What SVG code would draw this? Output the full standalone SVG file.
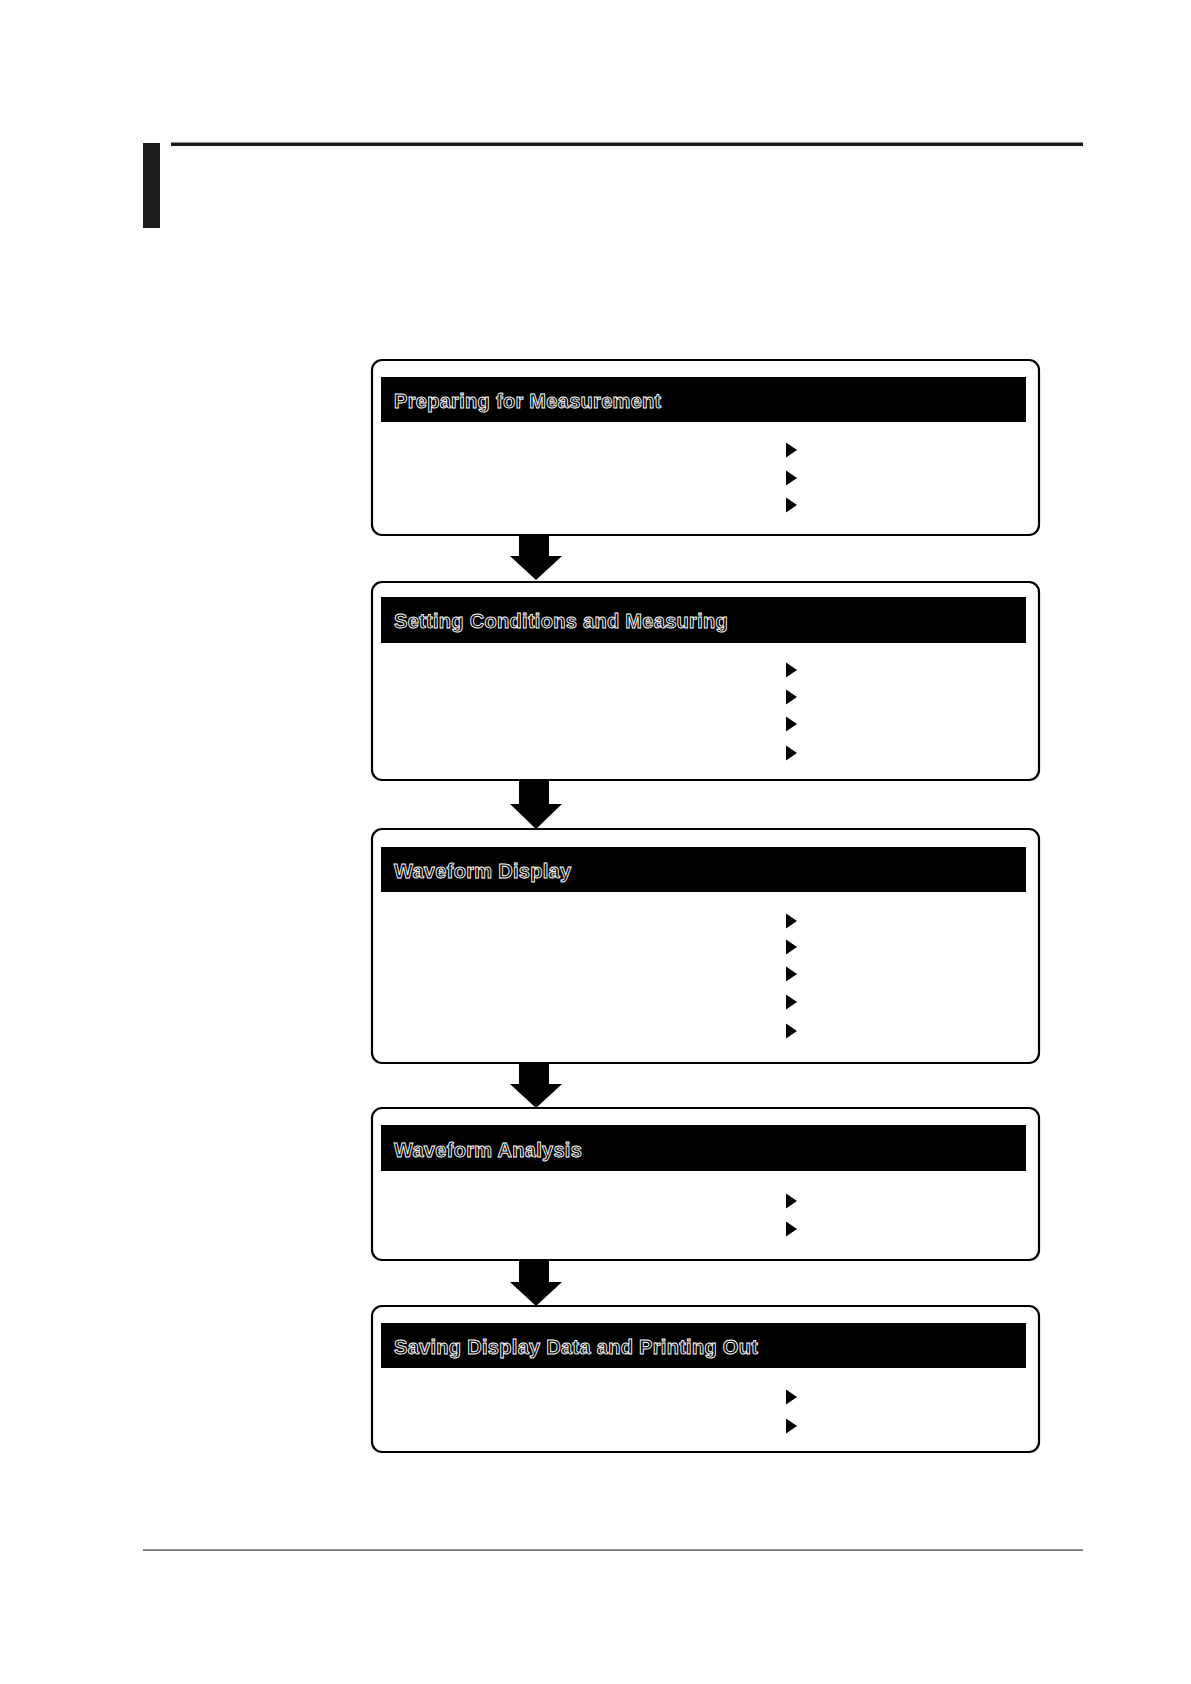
<svg xmlns="http://www.w3.org/2000/svg" width="1191" height="1684" viewBox="0 0 1191 1684">
<style>
.box{fill:#fff;stroke:#000;stroke-width:2.2}
.hdr{fill:#000}
.ht{font-family:"Liberation Sans",Arial,sans-serif;font-weight:bold;font-size:20px;fill:#000;stroke:#fff;stroke-width:0.9;letter-spacing:0.3px}
.tri{fill:#000}
.arr{fill:#000}
</style>
<defs><path id="t" d="M0,-7.5 L11,0 L0,7.5 Z"/></defs>
<rect x="143" y="143" width="17" height="85" fill="#1a1a1a"/>
<rect x="171" y="142.5" width="912" height="3.5" fill="#1a1a1a"/>
<rect x="143" y="1549.5" width="940" height="1.2" fill="#333"/>
<g id="connectors">
<path class="arr" d="M519,535 H549 V556 H562 L536,580 L510,556 H519 Z"/>
<path class="arr" d="M519,780 H549 V804 H562 L536,829 L510,804 H519 Z"/>
<path class="arr" d="M519,1063 H549 V1084 H562 L536,1108 L510,1084 H519 Z"/>
<path class="arr" d="M519,1260 H549 V1282 H562 L536,1306 L510,1282 H519 Z"/>
</g>
<g id="n1">
<rect class="box" x="372" y="360" width="667" height="175" rx="10"/>
<rect class="hdr" x="381" y="377" width="645" height="45"/>
<text class="ht" x="394" y="408">Preparing for Measurement</text>
<use href="#t" x="786" y="450"/><use href="#t" x="786" y="478"/><use href="#t" x="786" y="505"/>
</g>
<g id="n2">
<rect class="box" x="372" y="582" width="667" height="198" rx="10"/>
<rect class="hdr" x="381" y="597" width="645" height="46"/>
<text class="ht" x="394" y="628">Setting Conditions and Measuring</text>
<use href="#t" x="786" y="670"/><use href="#t" x="786" y="697"/><use href="#t" x="786" y="724"/><use href="#t" x="786" y="753"/>
</g>
<g id="n3">
<rect class="box" x="372" y="829" width="667" height="234" rx="10"/>
<rect class="hdr" x="381" y="847" width="645" height="45"/>
<text class="ht" x="394" y="878">Waveform Display</text>
<use href="#t" x="786" y="921"/><use href="#t" x="786" y="947"/><use href="#t" x="786" y="974"/><use href="#t" x="786" y="1002"/><use href="#t" x="786" y="1031"/>
</g>
<g id="n4">
<rect class="box" x="372" y="1108" width="667" height="152" rx="10"/>
<rect class="hdr" x="381" y="1125" width="645" height="46"/>
<text class="ht" x="394" y="1157">Waveform Analysis</text>
<use href="#t" x="786" y="1201"/><use href="#t" x="786" y="1229"/>
</g>
<g id="n5">
<rect class="box" x="372" y="1306" width="667" height="146" rx="10"/>
<rect class="hdr" x="381" y="1323" width="645" height="45"/>
<text class="ht" x="394" y="1354">Saving Display Data and Printing Out</text>
<use href="#t" x="786" y="1397"/><use href="#t" x="786" y="1426"/>
</g>
</svg>
